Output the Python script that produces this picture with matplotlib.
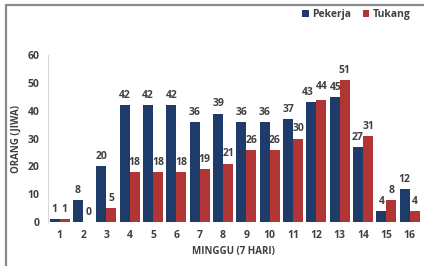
import matplotlib.pyplot as plt
import numpy as np
from matplotlib.patches import Rectangle

# data
minggu = list(range(1, 17))
pekerja = [1, 8, 20, 42, 42, 42, 36, 39, 36, 36, 37, 43, 45, 27, 4, 12]
tukang = [1, 0, 5, 18, 18, 18, 19, 21, 26, 26, 30, 44, 51, 31, 8, 4]

c_pek = '#1f3b6a'
c_tuk = '#b23535'
txt = '#404040'

plt.rcParams['font.family'] = ['Open Sans', 'DejaVu Sans']

fig = plt.figure(figsize=(4.24, 2.66), dpi=100)
ax = fig.add_axes([0.113, 0.165, 0.877, 0.628])

# outer frame like the original chart box
fig.patches.append(Rectangle((6 / 424, -0.1), 1.2, 1.1 - 5 / 266,
                             transform=fig.transFigure, fill=False,
                             edgecolor='#8a8a8a', linewidth=1.6))

x = np.array(minggu)
w = 0.43
b1 = ax.bar(x - w / 2, pekerja, w, color=c_pek, label='Pekerja')
b2 = ax.bar(x + w / 2, tukang, w, color=c_tuk, label='Tukang')

# small nudges (points) where labels crowd each other
nudge = {('p', 12): (-2.5, 0), ('t', 12): (0, 2.5), ('p', 13): (0.5, 0)}

for key, bars, vals in [('p', b1, pekerja), ('t', b2, tukang)]:
    for i, (rect, v) in enumerate(zip(bars, vals)):
        dx, dy = nudge.get((key, minggu[i]), (0, 0))
        ax.annotate(str(v), (rect.get_x() + rect.get_width() / 2, v),
                    xytext=(dx, 3 + dy), textcoords='offset points',
                    ha='center', va='bottom', fontsize=7.5,
                    fontweight='bold', color=txt)

ax.set_xlim(0.49, 16.43)
ax.set_ylim(0, 60)
ax.set_xticks(x)
ax.set_yticks(range(0, 61, 10))
ax.tick_params(length=0, labelsize=7.5, labelcolor=txt, pad=6)
for lab in ax.get_xticklabels() + ax.get_yticklabels():
    lab.set_fontweight('bold')

for s in ['top', 'right', 'bottom']:
    ax.spines[s].set_visible(False)
ax.spines['left'].set_color('#d9d9d9')

ax.set_xlabel('MINGGU (7 HARI)', fontsize=7, fontweight='bold', color=txt, labelpad=3)
ax.set_ylabel('ORANG (JIWA)', fontsize=7, fontweight='bold', color=txt, labelpad=4)

ax.legend(loc='upper right', bbox_to_anchor=(1.0, 1.33), ncol=2, frameon=False,
          handlelength=0.6, handleheight=0.6, handletextpad=0.3,
          columnspacing=1.2, prop={'weight': 'bold', 'size': 7.5})
for t in ax.get_legend().get_texts():
    t.set_color(txt)

fig.savefig('out.png', dpi=100)
